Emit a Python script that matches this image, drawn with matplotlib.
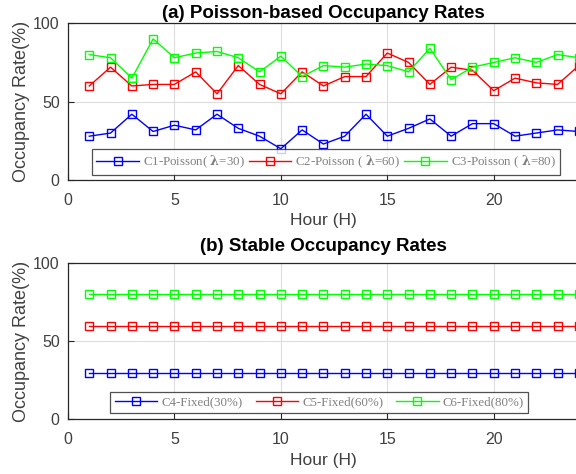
import matplotlib.pyplot as plt
import numpy as np

# hodiny a hodnoty obsazenosti
hours = np.arange(1, 25)
c1_poisson = [28, 30, 42, 31, 35, 32, 42, 33, 28, 20, 32, 23,
              28, 42, 28, 33, 39, 28, 36, 36, 28, 30, 32, 31]
c2_poisson = [60, 72, 60, 61, 61, 69, 55, 73, 61, 55, 69, 60,
              66, 66, 81, 75, 61, 72, 70, 57, 65, 62, 61, 73]
c3_poisson = [80, 78, 65, 90, 78, 81, 82, 78, 69, 79, 66, 73,
              72, 74, 73, 69, 84, 64, 72, 75, 78, 75, 80, 78]
c4_fixed = [30] * 24
c5_fixed = [60] * 24
c6_fixed = [80] * 24

labels_a = ["C1-Poisson( $\\boldsymbol{\\lambda}$=30)",
            "C2-Poisson ( $\\boldsymbol{\\lambda}$=60)",
            "C3-Poisson ( $\\boldsymbol{\\lambda}$=80)"]
labels_b = ["C4-Fixed(30%)", "C5-Fixed(60%)", "C6-Fixed(80%)"]
colors = ["#0000ff", "#ff0000", "#00ff00"]

plt.rcParams["font.family"] = "Liberation Sans"
plt.rcParams["mathtext.fontset"] = "dejavuserif"
gray = "#404040"

fig = plt.figure(figsize=(5.76, 4.74), dpi=100)
ax_a = fig.add_axes([0.118, 0.620, 0.887, 0.331])
ax_b = fig.add_axes([0.118, 0.115, 0.887, 0.330])


def style_axes(ax, title, title_pad):
    ax.set_xlim(0, 24)
    ax.set_ylim(0, 100)
    ax.set_xticks([0, 5, 10, 15, 20])
    ax.set_yticks([0, 50, 100])
    ax.grid(True, color="#dddddd", linewidth=0.8)
    ax.set_axisbelow(True)
    ax.tick_params(direction="in", length=4, labelsize=11.5, colors="#262626",
                   labelcolor=gray)
    ax.tick_params(axis="x", pad=9)
    ax.tick_params(axis="y", pad=6)
    for s in ax.spines.values():
        s.set_color("#262626")
        s.set_linewidth(0.9)
    ax.set_xlabel("Hour (H)", fontsize=12.5, color=gray, labelpad=4)
    ax.set_ylabel("Occupancy Rate(%)", fontsize=13, color=gray, labelpad=2)
    ax.set_title(title, fontsize=13.5, fontweight="bold", pad=title_pad)


def add_legend(ax, colsp, xpos, ypos):
    leg = ax.legend(loc="lower center", bbox_to_anchor=(xpos, ypos), ncol=3,
                    prop={"family": "Liberation Serif", "size": 9.3},
                    frameon=True, fancybox=False, edgecolor="#262626",
                    handlelength=3.3, columnspacing=colsp, handletextpad=0.3,
                    borderpad=0.35, borderaxespad=0.0, labelcolor="#808080")
    leg.get_frame().set_linewidth(0.9)


for series, lab, col in zip([c1_poisson, c2_poisson, c3_poisson], labels_a, colors):
    ax_a.plot(hours, series, color=col, marker="s", markersize=6,
              markerfacecolor="none", linewidth=1, label=lab, clip_on=False)
style_axes(ax_a, "(a) Poisson-based Occupancy Rates", 4)
add_legend(ax_a, 0.3, 0.505, 0.035)

for series, lab, col in zip([c4_fixed, c5_fixed, c6_fixed], labels_b, colors):
    ax_b.plot(hours, series, color=col, marker="s", markersize=6,
              markerfacecolor="none", linewidth=1, label=lab, clip_on=False)
style_axes(ax_b, "(b) Stable Occupancy Rates", 9)
add_legend(ax_b, 1.0, 0.492, 0.04)

plt.savefig("out.png", dpi=100)
